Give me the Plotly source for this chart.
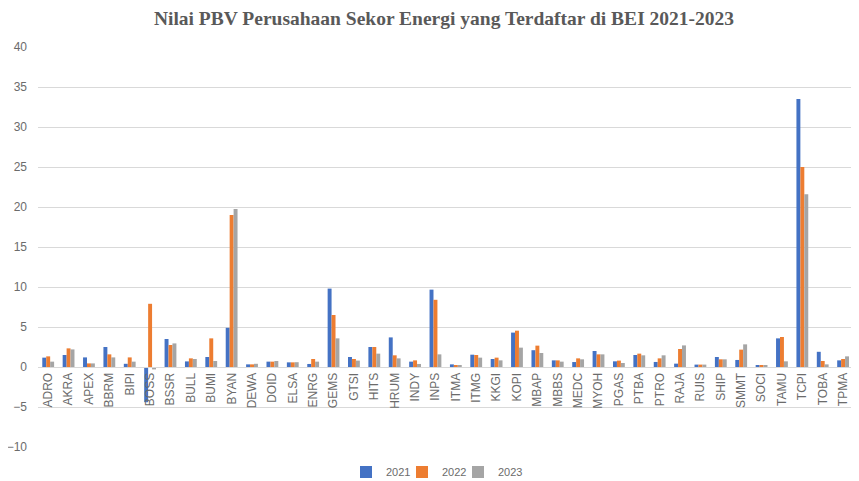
import plotly.graph_objects as go

categories = ["ADRO", "AKRA", "APEX", "BBRM", "BIPI", "BOSS", "BSSR", "BULL", "BUMI", "BYAN",
              "DEWA", "DOID", "ELSA", "ENRG", "GEMS", "GTSI", "HITS", "HRUM", "INDY", "INPS",
              "ITMA", "ITMG", "KKGI", "KOPI", "MBAP", "MBBS", "MEDC", "MYOH", "PGAS", "PTBA",
              "PTRO", "RAJA", "RUIS", "SHIP", "SMMT", "SOCI", "TAMU", "TCPI", "TOBA", "TPMA", "WOWS"]

pbv_2021 = [1.17, 1.5, 1.2, 2.5, 0.4, -4.4, 3.5, 0.7, 1.25, 4.9,
            0.33, 0.67, 0.58, 0.38, 9.8, 1.25, 2.5, 3.7, 0.67, 9.67,
            0.33, 1.54, 1.0, 4.3, 2.1, 0.83, 0.62, 2.0, 0.71, 1.5,
            0.63, 0.42, 0.3, 1.25, 0.88, 0.2, 3.58, 33.5, 1.9, 0.83, 0.17]
pbv_2022 = [1.33, 2.33, 0.45, 1.58, 1.2, 7.9, 2.75, 1.08, 3.58, 19.0,
            0.33, 0.67, 0.58, 1.0, 6.5, 1.0, 2.5, 1.46, 0.83, 8.4,
            0.2, 1.5, 1.17, 4.54, 2.67, 0.83, 1.08, 1.58, 0.8, 1.67,
            1.08, 2.25, 0.3, 0.96, 2.17, 0.2, 3.75, 25.0, 0.75, 1.0, 0.15]
pbv_2023 = [0.67, 2.2, 0.45, 1.2, 0.67, -0.3, 2.95, 1.0, 0.75, 19.75,
            0.4, 0.75, 0.6, 0.67, 3.58, 0.8, 1.67, 1.08, 0.38, 1.58,
            0.2, 1.17, 0.83, 2.42, 1.75, 0.67, 0.96, 1.58, 0.5, 1.46,
            1.46, 2.7, 0.3, 0.96, 2.83, 0.2, 0.71, 21.6, 0.33, 1.33, 0.15]

series = [("2021", pbv_2021, "#4472C4", "legend"),
          ("2022", pbv_2022, "#ED7D31", "legend2"),
          ("2023", pbv_2023, "#A5A5A5", "legend3")]

# The page adds an 8px body margin, so the figure is sized/offset to compensate.
W, H = 851, 473
PL, PT, PB = 30, 39, 34
PW = W - PL
grey_text = "#595959"
tick_grey = "#6b6b6b"

fig = go.Figure()
for name, vals, color, lg in series:
    fig.add_trace(go.Bar(x=categories, y=vals, name=name, marker_color=color,
                         marker_line_width=0, legend=lg, showlegend=True))

legend_font = dict(family="Liberation Sans", size=11, color=tick_grey)
def leg(page_x):
    return dict(orientation="h", x=(page_x - 8 - PL) / PW, xanchor="left",
                y=-0.0625, yanchor="middle", font=legend_font, itemwidth=30,
                bgcolor="rgba(0,0,0,0)", visible=True)

fig.update_layout(
    width=W, height=H,
    margin=dict(l=PL, r=0, t=PT, b=PB, autoexpand=False),
    paper_bgcolor="white", plot_bgcolor="white",
    barmode="group", bargap=0.42, bargroupgap=0,
    showlegend=True,
    title=dict(text="<b>Nilai PBV Perusahaan Sekor Energi yang Terdaftar di BEI 2021-2023</b>",
               font=dict(family="Liberation Serif", size=19.5, color=grey_text),
               x=(444 - 8) / W, xanchor="center", xref="container", y=1 - 10 / H, yref="container",
               yanchor="middle", automargin=False),
    legend=leg(346), legend2=leg(402), legend3=leg(458),
    font=dict(family="Liberation Sans", color=grey_text),
)
fig.update_yaxes(range=[-10, 40], dtick=5, showgrid=True, gridcolor="#D9D9D9", gridwidth=1,
                 zeroline=True, zerolinecolor="#D9D9D9", zerolinewidth=1,
                 tickfont=dict(family="Liberation Sans", size=12, color=tick_grey),
                 ticks="", showline=False, ticklabelstandoff=10, automargin=False)
fig.update_xaxes(range=[-0.5, 39.78], anchor="free", position=0.2, tickangle=-90,
                 tickfont=dict(family="Liberation Sans", size=12, color=tick_grey),
                 showline=True, linecolor="#D9D9D9", ticks="", showgrid=False, automargin=False)

fig.write_html("out.html")
